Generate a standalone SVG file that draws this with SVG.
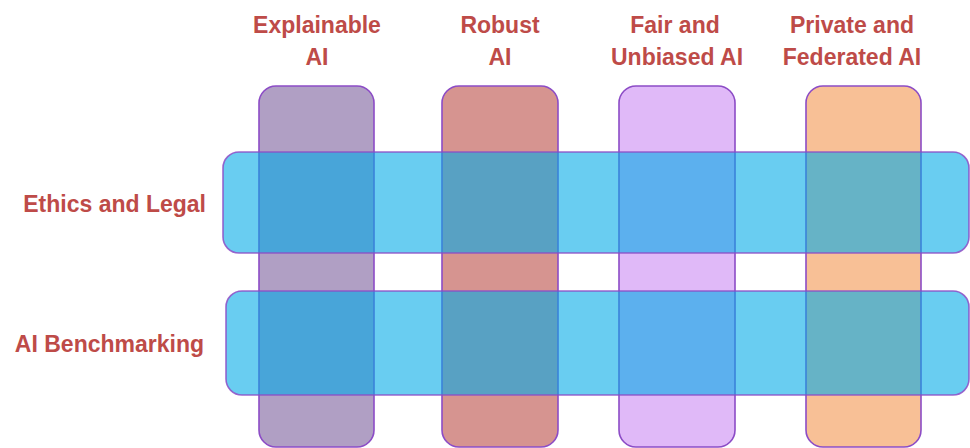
<svg xmlns="http://www.w3.org/2000/svg" width="970" height="448" viewBox="0 0 970 448">
<style>
.lbl{font-family:"Liberation Sans",Arial,sans-serif;font-weight:bold;font-size:23px;fill:#BE4B48}
.col{stroke:#8C4CC6;stroke-width:1.6}
.row{fill:#00AAE8;fill-opacity:0.59;stroke:#8C4CC6;stroke-opacity:0.85;stroke-width:1.6}
</style>
<rect width="970" height="448" fill="#FFFFFF"/>
<g id="col-explainable">
<rect class="col" x="259" y="86" width="115" height="361" rx="17" fill="#B09FC4"/>
<text class="lbl" x="317" y="33" text-anchor="middle">Explainable</text>
<text class="lbl" x="317" y="65" text-anchor="middle">AI</text>
</g>
<g id="col-robust">
<rect class="col" x="442" y="86" width="116" height="361" rx="17" fill="#D69490"/>
<text class="lbl" x="500" y="33" text-anchor="middle">Robust</text>
<text class="lbl" x="500" y="65" text-anchor="middle">AI</text>
</g>
<g id="col-fair">
<rect class="col" x="619" y="86" width="116" height="361" rx="17" fill="#E0B9F8"/>
<text class="lbl" x="675" y="33" text-anchor="middle">Fair and</text>
<text class="lbl" x="677" y="65" text-anchor="middle">Unbiased AI</text>
</g>
<g id="col-private">
<rect class="col" x="806" y="86" width="115" height="361" rx="17" fill="#F8C096"/>
<text class="lbl" x="852" y="33" text-anchor="middle">Private and</text>
<text class="lbl" x="852" y="65" text-anchor="middle">Federated AI</text>
</g>
<g id="row-ethics">
<rect class="row" x="223" y="152" width="746" height="101" rx="16"/>
<text class="lbl" x="206" y="212" text-anchor="end">Ethics and Legal</text>
</g>
<g id="row-benchmarking">
<rect class="row" x="226" y="291" width="743" height="104" rx="16"/>
<text class="lbl" x="204" y="352" text-anchor="end">AI Benchmarking</text>
</g>
<g id="connectors"></g>
</svg>
